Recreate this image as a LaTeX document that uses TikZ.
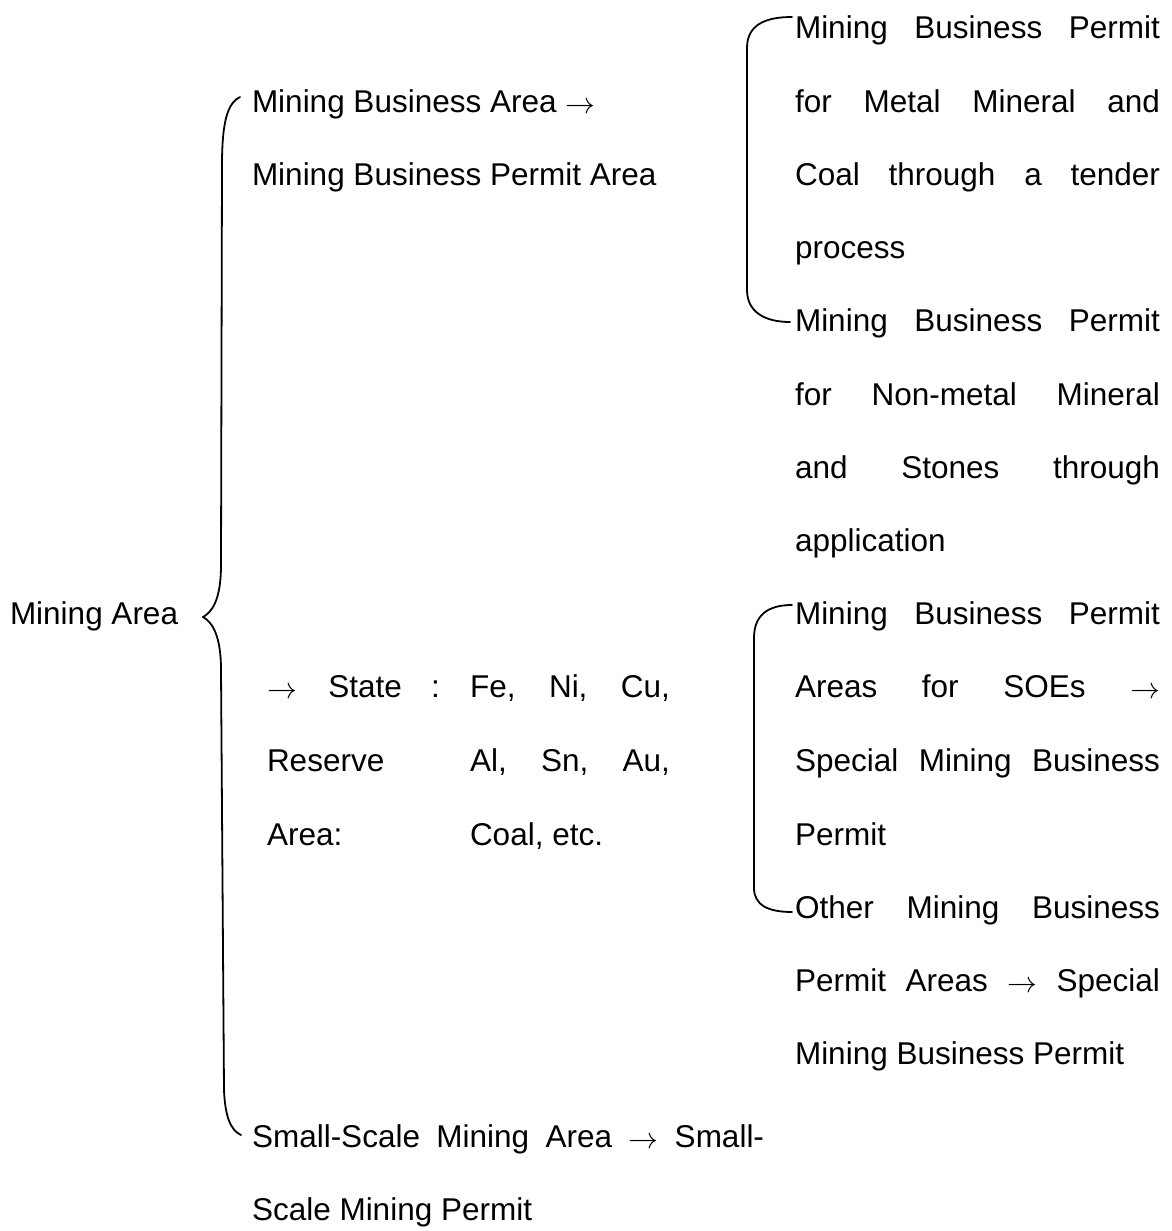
\documentclass[tikz,border=0pt]{standalone}
\usepackage{graphicx}
\usepackage{fontspec}
\setmainfont{Liberation Sans}
\newcommand{\jl}[2]{\makebox[#1][l]{#2}}
\newcommand{\arr}{\raisebox{-1.5pt}{\scalebox{1.2}{$\rightarrow$}}}
\begin{document}
\begin{tikzpicture}[x=1pt,y=-1pt,
  txt/.style={anchor=base west,inner sep=0pt,outer sep=0pt,font=\fontsize{31.5}{38}\selectfont},
  brace/.style={line width=1.8pt,line cap=round,line join=round}]
\useasboundingbox (0,0) rectangle (1171,1231);
% root
\node[txt] (ma) at (10,624) {Mining Area};
% left column
\node[txt] (l1) at (252,112) {Mining Business Area \arr};
\node[txt] (l2) at (252,185) {Mining Business Permit Area};
\node[txt] (s1) at (267,697) {\jl{135pt}{\arr\hfill State}};
\node[txt] (s2) at (267,771) {Reserve};
\node[txt] (s3) at (267,845) {Area:};
\node[txt] (colon) at (431,697) {:};
\node[txt] (e1) at (470,697) {\jl{200pt}{Fe,\hfill Ni,\hfill Cu,}};
\node[txt] (e2) at (470,771) {\jl{200pt}{Al,\hfill Sn,\hfill Au,}};
\node[txt] (e3) at (470,845) {Coal, etc.};
\node[txt] (k1) at (252,1147) {\jl{512pt}{Small-Scale\hfill Mining\hfill Area\hfill \arr\hfill Small-}};
\node[txt] (k2) at (252,1220) {Scale Mining Permit};
% right column
\node[txt] (r0) at (795,39) {\jl{365pt}{Mining\hfill Business\hfill Permit}};
\node[txt] (r1) at (795,112) {\jl{365pt}{for\hfill Metal\hfill Mineral\hfill and}};
\node[txt] (r2) at (795,185) {\jl{365pt}{Coal\hfill through\hfill a\hfill tender}};
\node[txt] (r3) at (795,258) {process};
\node[txt] (r4) at (795,331) {\jl{365pt}{Mining\hfill Business\hfill Permit}};
\node[txt] (r5) at (795,405) {\jl{365pt}{for\hfill Non-metal\hfill Mineral}};
\node[txt] (r6) at (795,478) {\jl{365pt}{and\hfill Stones\hfill through}};
\node[txt] (r7) at (795,551) {application};
\node[txt] (r8) at (795,624) {\jl{365pt}{Mining\hfill Business\hfill Permit}};
\node[txt] (r9) at (795,697) {\jl{365pt}{Areas\hfill for\hfill SOEs\hfill \arr}};
\node[txt] (r10) at (795,771) {\jl{365pt}{Special\hfill Mining\hfill Business}};
\node[txt] (r11) at (795,845) {Permit};
\node[txt] (r12) at (795,918) {\jl{365pt}{Other\hfill Mining\hfill Business}};
\node[txt] (r13) at (795,991) {\jl{365pt}{Permit\hfill Areas\hfill \arr\hfill Special}};
\node[txt] (r14) at (795,1064) {Mining Business Permit};
% brace end points
\coordinate (bt) at (240,97);
\coordinate (btip) at (203,617);
\coordinate (bb) at (241,1135);
\coordinate (c1t) at (792,17);
\coordinate (c1b) at (790,322);
\coordinate (c2t) at (792,605);
\coordinate (c2b) at (792,912);
% big brace
\draw[brace] (bt) .. controls (228,103) and (222,120) .. (222,165) -- (221,565)
  .. controls (221,600) and (212,612) .. (btip)
  .. controls (212,622) and (221,635) .. (221,670) -- (224,1090)
  .. controls (225,1115) and (230,1130) .. (bb);
% right brackets
\draw[brace] (c1t) .. controls (765,17) and (747,25) .. (747,48) -- (747,290)
  .. controls (747,312) and (765,322) .. (c1b);
\draw[brace] (c2t) .. controls (768,605) and (754,615) .. (754,638) -- (754,888)
  .. controls (754,905) and (768,912) .. (c2b);
\end{tikzpicture}
\end{document}
